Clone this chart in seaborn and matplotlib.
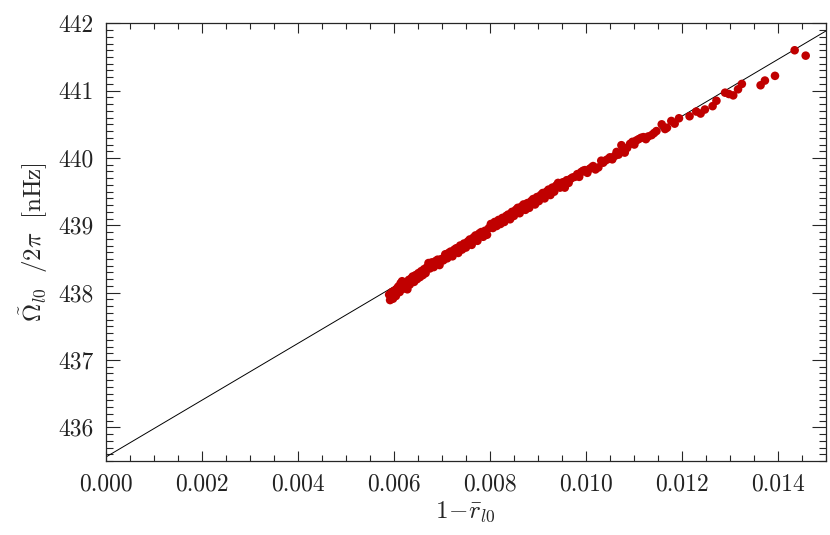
import numpy as np
import pandas as pd
import matplotlib
matplotlib.use('Agg')
import matplotlib.pyplot as plt
from matplotlib.ticker import MultipleLocator
import seaborn as sns

# data
x_low = [0.00590, 0.00592, 0.00596, 0.00598, 0.00601, 0.00604, 0.00606, 0.00609, 0.00612, 0.00614,
         0.00617, 0.00620, 0.00622, 0.00625, 0.00628, 0.00631, 0.00633, 0.00636, 0.00639, 0.00642,
         0.00645, 0.00648, 0.00651, 0.00654, 0.00657, 0.00660, 0.00663, 0.00666, 0.00669, 0.00672,
         0.00675, 0.00679, 0.00683, 0.00687, 0.00691, 0.00695, 0.00699]
y_low = [437.97, 437.89, 438.01, 437.91, 438.03, 437.95, 438.06, 438.09, 438.01, 438.14,
         438.17, 438.06, 438.12, 438.15, 438.05, 438.19, 438.12, 438.21, 438.24, 438.16,
         438.26, 438.20, 438.29, 438.23, 438.32, 438.26, 438.35, 438.29, 438.38, 438.44,
         438.36, 438.45, 438.38, 438.47, 438.49, 438.41, 438.50]

x_mid = [0.00703, 0.00707, 0.00711, 0.00714, 0.00718, 0.00722, 0.00726, 0.00730, 0.00734, 0.00738,
         0.00742, 0.00746, 0.00750, 0.00754, 0.00758, 0.00762, 0.00766, 0.00770, 0.00774, 0.00778,
         0.00782, 0.00786, 0.00790, 0.00794, 0.00798, 0.00802, 0.00806, 0.00810, 0.00814, 0.00818,
         0.00822, 0.00826, 0.00830, 0.00834, 0.00838, 0.00842, 0.00846, 0.00850, 0.00854, 0.00858,
         0.00862, 0.00866, 0.00870, 0.00874, 0.00878, 0.00882, 0.00886, 0.00890, 0.00894, 0.00898,
         0.00902, 0.00906, 0.00910, 0.00914, 0.00918, 0.00922, 0.00926, 0.00930, 0.00934, 0.00938,
         0.00942, 0.00946]
y_mid = [438.48, 438.57, 438.51, 438.59, 438.61, 438.54, 438.64, 438.66, 438.59, 438.70,
         438.64, 438.73, 438.67, 438.76, 438.79, 438.71, 438.82, 438.85, 438.77, 438.88,
         438.90, 438.83, 438.92, 438.86, 438.96, 439.02, 438.96, 439.05, 438.99, 439.08,
         439.02, 439.11, 439.05, 439.14, 439.16, 439.09, 439.20, 439.14, 439.23, 439.26,
         439.18, 439.28, 439.31, 439.23, 439.33, 439.26, 439.36, 439.39, 439.31, 439.42,
         439.36, 439.45, 439.48, 439.40, 439.50, 439.53, 439.45, 439.56, 439.50, 439.59,
         439.63, 439.56]

x_high = [0.00952, 0.00956, 0.00960, 0.00964, 0.00968, 0.00972, 0.00977, 0.00982, 0.00986, 0.00990,
          0.00994, 0.00998, 0.01003, 0.01008, 0.01012, 0.01015, 0.01020, 0.01026, 0.01032, 0.01036,
          0.01040, 0.01045, 0.01050, 0.01055, 0.01060, 0.01064, 0.01068, 0.01074, 0.01078, 0.01081,
          0.01086, 0.01092, 0.01097, 0.01101, 0.01105, 0.01110, 0.01115, 0.01120, 0.01125, 0.01130,
          0.01137, 0.01142]
y_high = [439.64, 439.56, 439.67, 439.63, 439.69, 439.71, 439.72, 439.76, 439.72, 439.79,
          439.81, 439.82, 439.78, 439.84, 439.86, 439.88, 439.83, 439.86, 439.96, 439.93,
          439.96, 439.98, 440.01, 439.98, 440.03, 440.09, 440.05, 440.19, 440.12, 440.08,
          440.15, 440.21, 440.24, 440.20, 440.26, 440.28, 440.30, 440.31, 440.28, 440.32,
          440.34, 440.37]

x_tail = [0.01147, 0.01158, 0.01165, 0.01169, 0.01178, 0.01185, 0.01194, 0.01216, 0.01230, 0.01239,
          0.01248, 0.01264, 0.01272, 0.01290, 0.01298, 0.01307, 0.01317, 0.01325, 0.01364, 0.01373,
          0.01394, 0.01435, 0.01458]
y_tail = [440.40, 440.50, 440.43, 440.45, 440.55, 440.51, 440.59, 440.62, 440.69, 440.66,
          440.72, 440.77, 440.85, 440.97, 440.95, 440.93, 441.02, 441.10, 441.08, 441.15,
          441.22, 441.60, 441.52]

# linear fit shown as the black line
fit_intercept = 435.56
fit_slope = 421.7
fit_x = [0.0, 0.015]

df = pd.DataFrame({'x': x_low + x_mid + x_high + x_tail,
                   'y': y_low + y_mid + y_high + y_tail})
fit = pd.DataFrame({'x': fit_x})
fit['y'] = fit_intercept + fit_slope * fit['x']

sns.set_style('ticks')
plt.rcParams['font.family'] = ['cmr10', 'DejaVu Serif']
plt.rcParams['mathtext.fontset'] = 'cm'
plt.rcParams['axes.formatter.use_mathtext'] = True

fig = plt.figure(figsize=(8.3, 5.35), dpi=100)
ax = fig.add_axes([0.1277, 0.1383, 0.8673, 0.8181])

sns.lineplot(data=fit, x='x', y='y', color='black', linewidth=0.7, ax=ax)
sns.scatterplot(data=df, x='x', y='y', color='#c00000', edgecolor='none', s=38, ax=ax, zorder=3)

ax.set_xlim(0.0, 0.015)
ax.set_ylim(435.5, 442.0)
ax.xaxis.set_major_locator(MultipleLocator(0.002))
ax.xaxis.set_minor_locator(MultipleLocator(0.0005))
ax.yaxis.set_major_locator(MultipleLocator(1))
ax.yaxis.set_minor_locator(MultipleLocator(0.1))
ax.xaxis.set_major_formatter(lambda v, p: f'{v:.3f}')
ax.yaxis.set_major_formatter(lambda v, p: f'{v:.0f}')

ax.tick_params(which='both', direction='in', top=True, right=True, labelsize=17,
               width=0.8, pad=9, labelcolor='#222222')
ax.tick_params(axis='y', which='major', length=10)
ax.tick_params(axis='y', which='minor', length=5)
ax.tick_params(axis='x', which='major', length=7)
ax.tick_params(axis='x', which='minor', length=4)
for sp in ax.spines.values():
    sp.set_linewidth(0.9)

ax.set_xlabel(r'$1\!-\!\bar{r}_{l0}$', fontsize=18, labelpad=3)
ax.set_ylabel(r'$\tilde{\Omega}_{l0}\ \ /2\pi\ \ [\mathrm{nHz}]$', fontsize=18, labelpad=6)

fig.savefig('out.png', dpi=100)
